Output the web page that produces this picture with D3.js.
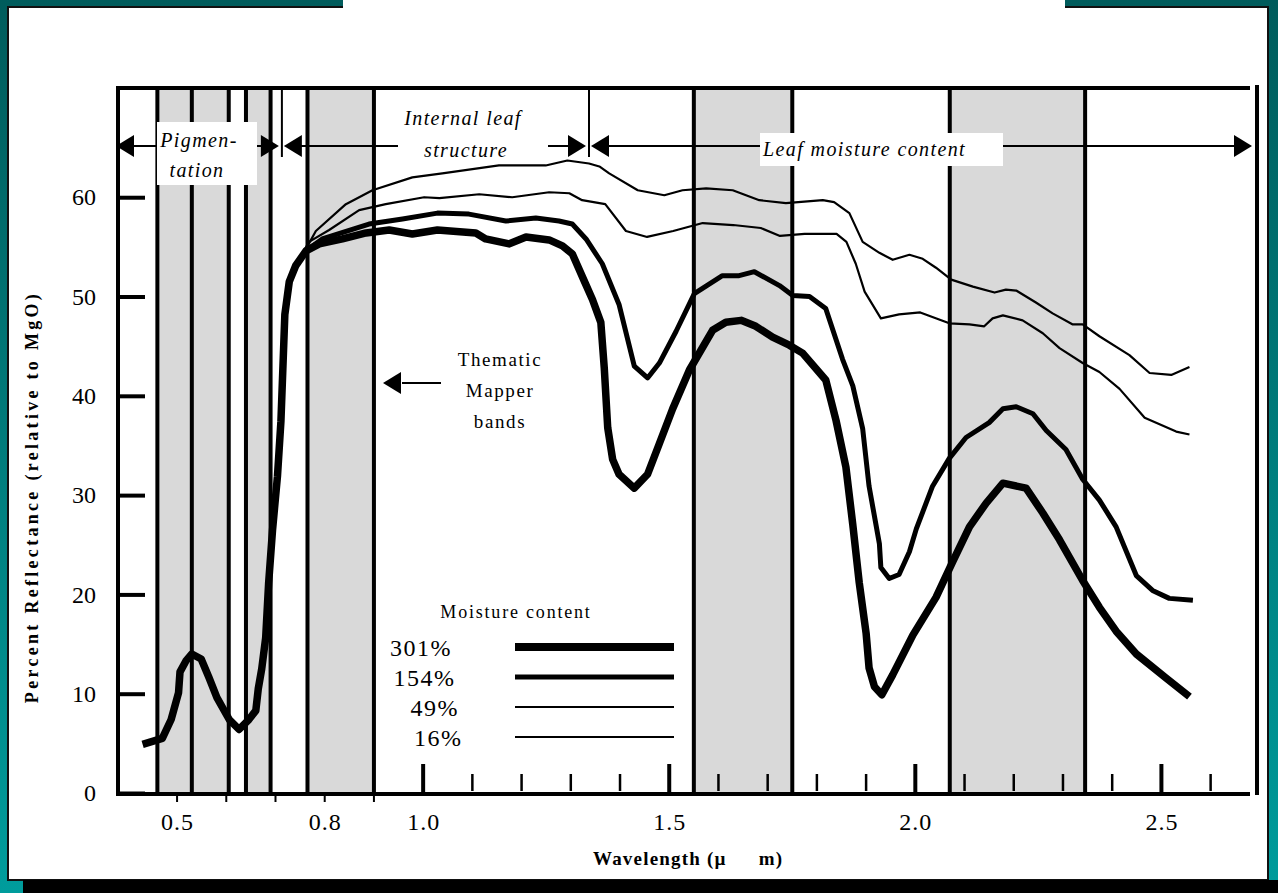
<!DOCTYPE html>
<html>
<head>
  <meta charset="utf-8">
  <title>Leaf reflectance and moisture content</title>
  <script src="https://d3js.org/d3.v7.min.js"></script>
<style>
  body { margin: 0; background: #000; }
  svg { display: block; font-family: "Liberation Serif", "Times New Roman", serif; }
</style>
</head>
<body>
<div id="chart"></div>
<script>
  // Wavelength (µm) and reflectance (%)
  const wl301 = [0.43, 0.47, 0.488, 0.503, 0.506, 0.518, 0.53, 0.549, 0.565, 0.581, 0.606, 0.626, 0.646, 0.66,
                 0.665, 0.672, 0.68, 0.686, 0.694, 0.704, 0.711, 0.715, 0.719, 0.728, 0.741, 0.762, 0.789, 0.836,
                 0.884, 0.931, 0.978, 1.029, 1.107, 1.127, 1.175, 1.209, 1.256, 1.283, 1.303, 1.327, 1.344, 1.361,
                 1.368, 1.375, 1.385, 1.398, 1.429, 1.456, 1.48, 1.507, 1.541, 1.588, 1.615, 1.646, 1.676, 1.71,
                 1.744, 1.771, 1.818, 1.839, 1.859, 1.873, 1.886, 1.9, 1.906, 1.917, 1.932, 1.954, 1.995, 2.042,
                 2.076, 2.11, 2.144, 2.178, 2.225, 2.259, 2.293, 2.34, 2.374, 2.408, 2.449, 2.509, 2.557];
  const r301  = [4.9, 5.5, 7.4, 10.1, 12.2, 13.3, 14.0, 13.5, 11.6, 9.6, 7.4, 6.4, 7.4, 8.3,
                 10.5, 12.5, 15.6, 21.1, 26.5, 31.9, 37.4, 42.8, 48.2, 51.5, 53.1, 54.6, 55.3, 55.8,
                 56.4, 56.7, 56.3, 56.7, 56.4, 55.8, 55.3, 56.0, 55.7, 55.1, 54.3, 51.6, 49.7, 47.4,
                 42.8, 36.8, 33.6, 32.1, 30.7, 32.1, 35.2, 38.7, 42.6, 46.6, 47.4, 47.6, 47.0, 45.9,
                 45.1, 44.3, 41.6, 37.5, 32.8, 27.0, 21.2, 16.1, 12.6, 10.7, 9.9, 11.9, 15.9, 19.7,
                 23.3, 26.8, 29.2, 31.2, 30.7, 28.2, 25.5, 21.4, 18.7, 16.3, 14.0, 11.6, 9.7];

  const wl154 = [0.741, 0.762, 0.795, 0.89, 0.958, 1.029, 1.093, 1.168, 1.229, 1.276, 1.303, 1.331, 1.364,
                 1.398, 1.429, 1.456, 1.48, 1.514, 1.551, 1.608, 1.642, 1.673, 1.724, 1.751, 1.785, 1.818,
                 1.852, 1.873, 1.893, 1.906, 1.927, 1.93, 1.947, 1.967, 1.988, 2.002, 2.035, 2.069, 2.103,
                 2.15, 2.178, 2.205, 2.239, 2.266, 2.306, 2.34, 2.374, 2.408, 2.449, 2.482, 2.516, 2.564];
  const r154  = [53.1, 54.6, 55.8, 57.3, 57.8, 58.4, 58.3, 57.6, 57.9, 57.6, 57.3, 55.8, 53.3,
                 49.2, 43.0, 41.8, 43.3, 46.5, 50.3, 52.1, 52.1, 52.5, 51.1, 50.1, 50.0, 48.8,
                 43.7, 41.0, 36.7, 30.9, 25.1, 22.7, 21.6, 22.0, 24.3, 26.6, 30.9, 33.7, 35.8,
                 37.3, 38.7, 38.9, 38.2, 36.5, 34.6, 31.6, 29.5, 26.8, 21.9, 20.4, 19.6, 19.4];

  const wl49 = [0.741, 0.768, 0.809, 0.87, 0.924, 1.002, 1.033, 1.114, 1.181, 1.256, 1.297, 1.323, 1.37,
                1.412, 1.455, 1.508, 1.568, 1.63, 1.686, 1.725, 1.775, 1.84, 1.86, 1.879, 1.897, 1.93,
                1.967, 2.01, 2.069, 2.11, 2.14, 2.157, 2.178, 2.218, 2.259, 2.293, 2.34, 2.374, 2.415,
                2.466, 2.53, 2.557];
  const r49  = [53.1, 55.5, 56.7, 58.7, 59.3, 60.0, 59.9, 60.3, 60.0, 60.5, 60.4, 59.7, 59.3,
                56.6, 56.0, 56.6, 57.4, 57.2, 56.9, 56.1, 56.3, 56.3, 55.5, 53.3, 50.5, 47.8,
                48.2, 48.4, 47.3, 47.2, 47.0, 47.8, 48.1, 47.6, 46.3, 44.8, 43.3, 42.4, 40.7,
                37.8, 36.4, 36.1];

  const wl16 = [0.741, 0.762, 0.782, 0.843, 0.897, 0.978, 1.039, 1.154, 1.249, 1.293, 1.337, 1.358, 1.378,
                1.436, 1.49, 1.527, 1.575, 1.629, 1.683, 1.737, 1.812, 1.835, 1.866, 1.893, 1.927, 1.954,
                1.988, 2.015, 2.042, 2.073, 2.117, 2.161, 2.184, 2.205, 2.245, 2.279, 2.319, 2.34, 2.374,
                2.435, 2.476, 2.52, 2.557];
  const r16  = [53.1, 54.8, 56.6, 59.3, 60.7, 62.0, 62.4, 63.2, 63.2, 63.7, 63.4, 63.1, 62.4,
                60.7, 60.2, 60.7, 60.9, 60.7, 59.7, 59.4, 59.7, 59.5, 58.4, 55.5, 54.4, 53.7,
                54.2, 53.8, 52.9, 51.7, 51.0, 50.4, 50.7, 50.6, 49.4, 48.3, 47.2, 47.2, 46.0,
                44.1, 42.3, 42.1, 42.9];

  const moistureLabels = ["301%", "154%", "49%", "16%"];

  // Thematic Mapper bands (edges as drawn in the figure)
  const bandStart = [0.46, 0.53, 0.64, 0.765, 1.55, 2.07];
  const bandEnd   = [0.53, 0.605, 0.69, 0.90, 1.75, 2.345];

  // Spectral regions along the top
  const regionBounds = [0.38, 0.713, 1.337, 2.68];

  const yTicks = [0, 10, 20, 30, 40, 50, 60];
  const xLabels = [0.5, 0.8, 1.0, 1.5, 2.0, 2.5];
  const xMajor = [1.0, 1.5, 2.0, 2.5];
  const xMinor = [1.1, 1.2, 1.3, 1.4, 1.6, 1.7, 1.8, 1.9, 2.1, 2.2, 2.3, 2.4, 2.6];
  const xSmall = [0.5, 0.6, 0.7, 0.8, 0.9];

  const W = 1278, H = 893;
  const x = d3.scaleLinear().domain([0.38, 2.68]).range([118, 1250]);
  const y = d3.scaleLinear().domain([0, 71]).range([793, 88]);

  const svg = d3.select("#chart").append("svg")
      .attr("width", W).attr("height", H);

  // slide background
  const grad = svg.append("defs").append("linearGradient")
      .attr("id", "teal").attr("x1", 0).attr("y1", 0).attr("x2", 0).attr("y2", 1);
  grad.append("stop").attr("offset", 0).attr("stop-color", "#005c5c");
  grad.append("stop").attr("offset", 1).attr("stop-color", "#009c9c");
  svg.append("rect").attr("width", W).attr("height", H).attr("fill", "url(#teal)");
  svg.append("rect").attr("x", 8).attr("y", 7).attr("width", 1260).attr("height", 873)
      .attr("fill", "#fff").attr("stroke", "#111").attr("stroke-width", 2);
  svg.append("rect").attr("x", 343).attr("y", 0).attr("width", 722).attr("height", 8).attr("fill", "#fff");
  svg.append("rect").attr("x", 23).attr("y", 880).attr("width", W - 23).attr("height", H - 880).attr("fill", "#000");

  const yTop = y.range()[1], yBottom = y.range()[0];

  // grey bands
  svg.selectAll(".band")
    .data(d3.zip(bandStart, bandEnd))
    .enter().append("rect")
      .attr("x", d => x(d[0]))
      .attr("y", yTop)
      .attr("width", d => x(d[1]) - x(d[0]))
      .attr("height", yBottom - yTop)
      .attr("fill", "#d9d9d9");

  const edges = Array.from(new Set(bandStart.concat(bandEnd)));
  svg.selectAll(".edge")
    .data(edges)
    .enter().append("line")
      .attr("x1", d => x(d)).attr("x2", d => x(d))
      .attr("y1", yTop).attr("y2", yBottom)
      .attr("stroke", "#000").attr("stroke-width", 4);

  // curves
  const series = [
    {wl: wl16, r: r16, w: 2.2},
    {wl: wl49, r: r49, w: 2.2},
    {wl: wl154, r: r154, w: 5},
    {wl: wl301, r: r301, w: 7.5}
  ];
  const line = d3.line().x(d => x(d[0])).y(d => y(d[1]));
  series.forEach(s => {
    svg.append("path")
      .datum(d3.zip(s.wl, s.r))
      .attr("fill", "none")
      .attr("stroke", "#000")
      .attr("stroke-width", s.w)
      .attr("stroke-linejoin", "round")
      .attr("d", line);
  });

  // frame
  const frame = svg.append("g").attr("stroke", "#000").attr("stroke-width", 4);
  frame.append("line").attr("x1", x(0.38)).attr("x2", x(0.38)).attr("y1", yTop - 2).attr("y2", yBottom + 2);
  frame.append("line").attr("x1", x(0.38) - 2).attr("x2", x(2.68)).attr("y1", yTop).attr("y2", yTop);
  frame.append("line").attr("x1", x(0.38) - 2).attr("x2", x(2.68)).attr("y1", yBottom + 1).attr("y2", yBottom + 1);
  frame.append("line").attr("x1", x(2.68) + 7).attr("x2", x(2.68) + 7).attr("y1", yTop - 3).attr("y2", yBottom + 2);

  // y axis
  const yAxis = d3.axisLeft(y).tickValues(yTicks).tickSize(-27).tickPadding(22).tickFormat(d3.format("d"));
  const gy = svg.append("g").attr("transform", `translate(${x(0.38)},0)`).call(yAxis);
  gy.select(".domain").remove();
  gy.selectAll(".tick line").attr("stroke-width", 4);
  gy.attr("font-family", null).attr("font-size", 24);
  gy.selectAll("text").attr("fill", "#000");

  // x axis labels
  const xAxis = d3.axisBottom(x).tickValues(xLabels).tickSize(0).tickPadding(20).tickFormat(d3.format(".1f"));
  const gx = svg.append("g").attr("transform", `translate(0,${yBottom})`).call(xAxis);
  gx.select(".domain").remove();
  gx.attr("font-family", null).attr("font-size", 24);
  gx.selectAll("text").attr("fill", "#000").attr("letter-spacing", 1);

  // x tick marks
  svg.selectAll(".major").data(xMajor).enter().append("line")
    .attr("x1", d => x(d)).attr("x2", d => x(d))
    .attr("y1", yBottom - 29).attr("y2", yBottom)
    .attr("stroke", "#000").attr("stroke-width", 4);
  svg.selectAll(".minor").data(xMinor).enter().append("line")
    .attr("x1", d => x(d)).attr("x2", d => x(d))
    .attr("y1", yBottom - 19).attr("y2", yBottom - 2)
    .attr("stroke", "#000").attr("stroke-width", 2.5);
  svg.selectAll(".small").data(xSmall).enter().append("line")
    .attr("x1", d => x(d)).attr("x2", d => x(d))
    .attr("y1", yBottom + 3).attr("y2", yBottom + 9)
    .attr("stroke", "#000").attr("stroke-width", 2);

  // arrows
  function arrowHead(tipX, yy, dir) {
    svg.append("path")
      .attr("d", `M${tipX},${yy} L${tipX - dir * 18},${yy - 11} L${tipX - dir * 18},${yy + 11} Z`)
      .attr("fill", "#000");
  }
  function hline(x1, x2, yy) {
    svg.append("line").attr("x1", x1).attr("x2", x2).attr("y1", yy).attr("y2", yy)
      .attr("stroke", "#000").attr("stroke-width", 2);
  }

  const rowY = 146;
  // dividers between regions
  [regionBounds[1], regionBounds[2]].forEach(b => {
    svg.append("line").attr("x1", x(b)).attr("x2", x(b)).attr("y1", yTop).attr("y2", rowY + 11)
      .attr("stroke", "#000").attr("stroke-width", 2);
  });
  for (let i = 0; i < 3; i++) {
    const l = x(regionBounds[i]) + (i === 0 ? -2 : 2);
    const r = x(regionBounds[i + 1]) + (i === 2 ? 2 : -3);
    hline(l + 16, r - 16, rowY);
    arrowHead(l, rowY, -1);
    arrowHead(r, rowY, 1);
  }

  const italic = t => t.attr("font-style", "italic").attr("font-size", 20).attr("letter-spacing", 1.4);

  // Pigmentation box
  svg.append("rect").attr("x", 157).attr("y", 122).attr("width", 100).attr("height", 63).attr("fill", "#fff");
  italic(svg.append("text").attr("x", 199).attr("y", 147).attr("text-anchor", "middle").text("Pigmen-"));
  italic(svg.append("text").attr("x", 197).attr("y", 177).attr("text-anchor", "middle").text("tation"));

  // Internal leaf structure
  svg.append("rect").attr("x", 398).attr("y", 104).attr("width", 150).attr("height", 60).attr("fill", "#fff");
  italic(svg.append("text").attr("x", 463).attr("y", 125).attr("text-anchor", "middle").text("Internal leaf"));
  italic(svg.append("text").attr("x", 466).attr("y", 157).attr("text-anchor", "middle").text("structure"));

  // Leaf moisture content box
  svg.append("rect").attr("x", 760).attr("y", 133).attr("width", 243).attr("height", 33).attr("fill", "#fff");
  italic(svg.append("text").attr("x", 763).attr("y", 156).text("Leaf moisture content"));

  // Thematic Mapper annotation
  hline(402, 441, 383);
  arrowHead(383, 383, -1);
  ["Thematic", "Mapper", "bands"].forEach((t, i) => {
    svg.append("text").attr("x", 500).attr("y", 366 + i * 31).attr("text-anchor", "middle")
      .attr("font-size", 19).attr("letter-spacing", 1.6).text(t);
  });

  // legend
  svg.append("text").attr("x", 516).attr("y", 618).attr("text-anchor", "middle")
    .attr("font-size", 18).attr("letter-spacing", 1.8).text("Moisture content");
  moistureLabels.forEach((lab, i) => {
    const ly = 647 + i * 30;
    svg.append("text").attr("x", 452 + i * 3.5).attr("y", ly + 9).attr("text-anchor", "end")
      .attr("font-size", 24).attr("letter-spacing", 1.5).text(lab);
    svg.append("line").attr("x1", 515).attr("x2", 674).attr("y1", ly).attr("y2", ly)
      .attr("stroke", "#000").attr("stroke-width", series[3 - i].w + (i === 0 ? 0.5 : 0));
  });

  // axis titles
  svg.append("text")
    .attr("transform", "translate(38,497) rotate(-90)")
    .attr("text-anchor", "middle")
    .attr("font-weight", "bold").attr("font-size", 18).attr("letter-spacing", 3.3)
    .text("Percent Reflectance (relative to MgO)");

  const xt = svg.append("text").attr("x", 593).attr("y", 865)
    .attr("font-weight", "bold").attr("font-size", 19).attr("letter-spacing", 1.2);
  xt.append("tspan").text("Wavelength (µ");
  xt.append("tspan").attr("dx", 32).text("m)");
</script>
</body>
</html>
